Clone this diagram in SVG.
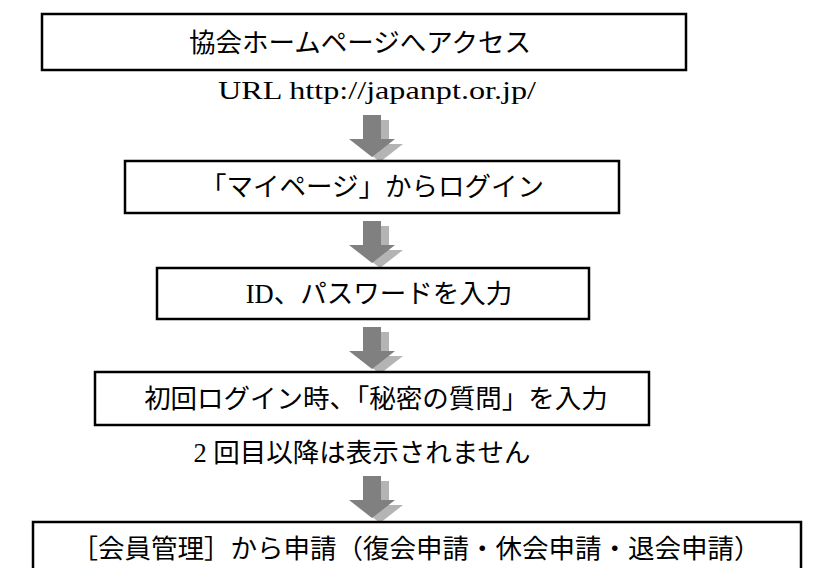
<svg xmlns="http://www.w3.org/2000/svg" width="818" height="568" viewBox="0 0 818 568">
<style>
.box{fill:#fff;stroke:#000;stroke-width:2.5}
.jp{font-family:"Liberation Serif","Noto Sans CJK JP",serif;font-size:26.5px;fill:#000;text-anchor:middle}
.lat{font-family:"Liberation Serif","Noto Sans CJK JP",serif;font-size:26px;fill:#000;text-anchor:middle}
.arr{fill:#808080}
.sh{fill:#b4b4b4}
</style>
<defs>
<g id="arrow">
<path class="sh" d="M-5,3 h19 v24 h14 l-23,18 l-23,-18 h14 z" transform="translate(3,2)"/>
<path class="arr" d="M-9,0 h18 v24 h14 l-23,18 l-23,-18 h14 z"/>
</g>
</defs>
<g id="connectors">
<use href="#arrow" x="372" y="115"/>
<use href="#arrow" x="372" y="221"/>
<use href="#arrow" x="372" y="327"/>
<use href="#arrow" x="372" y="476"/>
</g>
<g id="n1">
<rect class="box" x="42" y="14" width="644" height="56"/>
<text class="jp" x="360" y="52">協会ホームページへアクセス</text>
</g>
<g id="url">
<text class="lat" x="377" y="99" textLength="318" lengthAdjust="spacingAndGlyphs">URL http://japanpt.or.jp/</text>
</g>
<g id="n2">
<rect class="box" x="125" y="161" width="494" height="52"/>
<text class="jp" x="372" y="196">「マイページ」からログイン</text>
</g>
<g id="n3">
<rect class="box" x="157" y="268" width="432" height="51"/>
<text class="jp" x="379" y="303">ID、パスワードを入力</text>
</g>
<g id="n4">
<rect class="box" x="95" y="372" width="554" height="53"/>
<text class="jp" x="376" y="408">初回ログイン時、「秘密の質問」を入力</text>
</g>
<g id="note">
<text class="jp" x="362" y="462">2 回目以降は表示されません</text>
</g>
<g id="n5">
<rect class="box" x="33" y="522" width="768" height="60"/>
<text class="jp" x="416" y="558">［会員管理］から申請（復会申請・休会申請・退会申請）</text>
</g>
</svg>
